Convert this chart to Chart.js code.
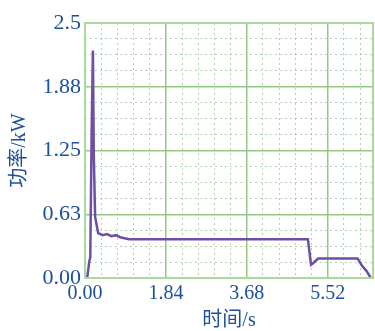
<!DOCTYPE html>
<html>
<head>
<meta charset="utf-8">
<script src="https://cdn.jsdelivr.net/npm/chart.js@4.4.1/dist/chart.umd.min.js"></script>
<style>
  html, body { margin: 0; padding: 0; background: #ffffff; }
  #wrap { width: 375px; height: 331px; position: relative; }
</style>
</head>
<body>
<div id="wrap"><canvas id="c" width="375" height="331"></canvas></div>
<script>
// ---- data ----
const timeS  = [0.00, 0.05, 0.10, 0.12, 0.15, 0.18, 0.20, 0.23, 0.30, 0.40, 0.50, 0.60, 0.70, 0.80, 0.90, 1.00, 2.00, 3.00, 4.00, 5.07, 5.14, 5.20, 5.30, 6.00, 6.20, 6.30, 6.40, 6.50];
const powerKW = [0.00, 0.00, 0.17, 0.20, 1.40, 2.23, 1.20, 0.60, 0.44, 0.42, 0.43, 0.41, 0.42, 0.40, 0.39, 0.38, 0.38, 0.38, 0.38, 0.38, 0.13, 0.15, 0.19, 0.19, 0.19, 0.12, 0.07, 0.00];
const xTickValues = [0, 1.84, 3.68, 5.52];
const xTickLabels = ['0.00', '1.84', '3.68', '5.52'];
const yTickValues = [0, 0.625, 1.25, 1.875, 2.5];
const yTickLabels = ['0.00', '0.63', '1.25', '1.88', '2.5'];
const xMinorStep = 0.368;
const yMinorStep = 0.15625;
const xTitle = '时间/s';
const yTitle = '功率/kW';

const X_MAX = 6.55, Y_MAX = 2.5;
const tickColor = '#1c4f9e';
const serif = '"Liberation Serif", "Noto Sans CJK SC", serif';

function minorTicks(max, step) {
  const out = [];
  for (let i = 0; i * step <= max + 1e-9; i++) out.push({ value: +(i * step).toFixed(5) });
  return out;
}

new Chart(document.getElementById('c'), {
  type: 'line',
  data: {
    datasets: [{
      data: timeS.map((t, i) => ({ x: t, y: powerKW[i] })),
      borderColor: '#6e4fa6',
      borderWidth: 2.5,
      pointRadius: 0,
      tension: 0,
      fill: false
    }]
  },
  options: {
    responsive: false,
    animation: false,
    layout: { padding: { left: 0, top: 23, right: 2, bottom: 0 } },
    plugins: { legend: { display: false }, tooltip: { enabled: false } },
    scales: {
      xMinor: {
        type: 'linear', position: 'bottom', min: 0, max: X_MAX,
        afterBuildTicks: s => { s.ticks = minorTicks(X_MAX, xMinorStep); },
        afterFit: s => { s.height = 0; },
        ticks: { display: false },
        grid: { color: 'rgba(110,175,100,0.55)', lineWidth: 1, drawTicks: false, tickBorderDash: [2, 3] },
        border: { display: false, dash: [2, 3] }
      },
      yMinor: {
        type: 'linear', position: 'left', min: 0, max: Y_MAX,
        afterBuildTicks: s => { s.ticks = minorTicks(Y_MAX, yMinorStep); },
        afterFit: s => { s.width = 0; },
        ticks: { display: false },
        grid: { color: 'rgba(110,175,100,0.55)', lineWidth: 1, drawTicks: false },
        border: { display: false, dash: [2, 3] }
      },
      x: {
        type: 'linear', position: 'bottom', min: 0, max: X_MAX,
        afterBuildTicks: s => { s.ticks = xTickValues.map(v => ({ value: v })); },
        afterFit: s => { s.height = 53; },
        ticks: {
          color: tickColor, padding: 4, maxRotation: 0, autoSkip: false,
          font: { family: serif, size: 20 },
          callback: (v) => { const i = xTickValues.indexOf(v); return i >= 0 ? xTickLabels[i] : ''; }
        },
        grid: { color: '#8fcc82', lineWidth: 1.5, drawTicks: false },
        border: { color: '#a9d99b', width: 2 },
        title: {
          display: true, text: xTitle, color: tickColor,
          font: { family: serif, size: 20, lineHeight: 1 },
          padding: { top: 0, bottom: 0 }
        }
      },
      y: {
        type: 'linear', position: 'left', min: 0, max: Y_MAX,
        afterBuildTicks: s => { s.ticks = yTickValues.map(v => ({ value: v })); },
        afterFit: s => { s.width = 85; },
        ticks: {
          color: tickColor, padding: 4, autoSkip: false,
          font: { family: serif, size: 22 },
          callback: (v) => { const i = yTickValues.indexOf(v); return i >= 0 ? yTickLabels[i] : ''; }
        },
        grid: { color: '#8fcc82', lineWidth: 1.5, drawTicks: false },
        border: { color: '#a9d99b', width: 2 },
        title: {
          display: true, text: yTitle, color: tickColor,
          font: { family: serif, size: 20, lineHeight: 1.2 },
          padding: { top: 8, bottom: 0 }
        }
      }
    }
  },
  plugins: [{
    id: 'frame',
    afterDraw(chart) {
      const { ctx, chartArea: a } = chart;
      ctx.save();
      ctx.strokeStyle = '#a9d99b';
      ctx.lineWidth = 2;
      ctx.strokeRect(a.left, a.top, a.right - a.left, a.bottom - a.top);
      ctx.restore();
    }
  }]
});
</script>
</body>
</html>
